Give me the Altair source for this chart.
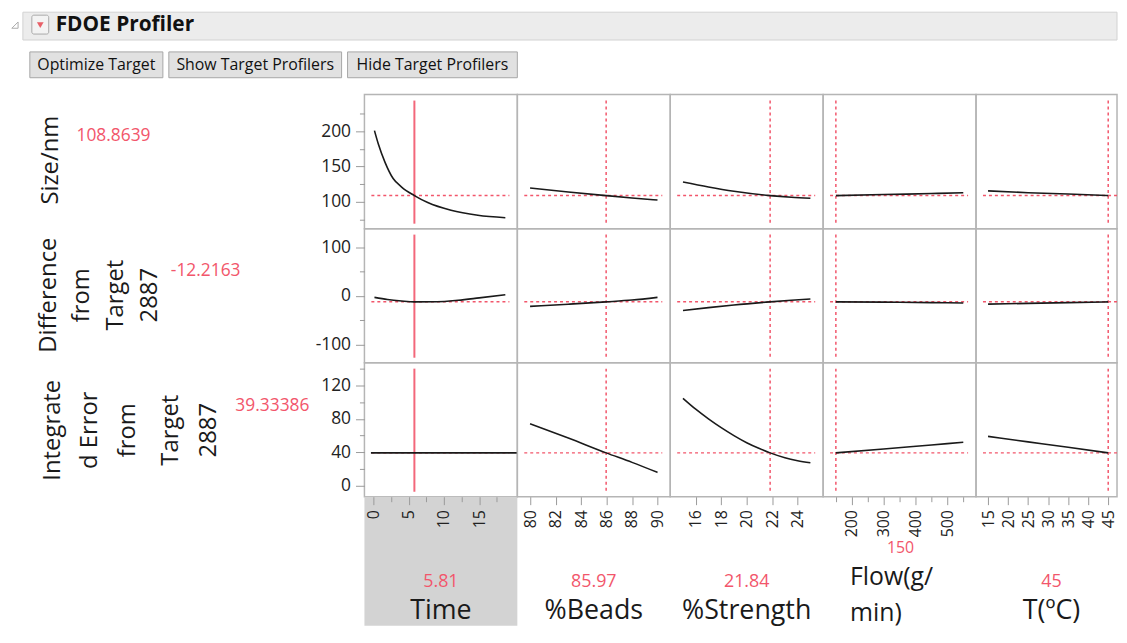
import altair as alt
import pandas as pd

FONT = "Open Sans"
RED = "#f2566b"
INK = "#1a1a1a"

# ---------------- data ----------------
factor_names = ["Time", "%Beads", "%Strength", "Flow(g/min)", "T(ºC)"]
factor_now = [5.81, 85.97, 21.84, 150, 45]
factor_now_txt = ["5.81", "85.97", "21.84", "150", "45"]
response_now = [108.8639, -12.2163, 39.33386]
response_now_txt = ["108.8639", "-12.2163", "39.33386"]
response_title_lines = [["Size/nm"],
                        ["Difference", "from", "Target", "2887"],
                        ["Integrate", "d Error", "from", "Target", "2887"]]

# x positions of curves per factor
time_x = [0.15, 0.7, 1.65, 2.8, 4.0, 5.81, 7.7, 11.0, 14.8, 18.7]
time_x2 = [0.15, 2, 4, 5.81, 9, 12, 15, 18.7]
time_x3 = [-0.35, 20.4]
beads_x = [80, 83, 85.97, 88, 90]
strength_x = [15, 17, 19, 21.84, 23.5, 25]
strength_x3 = [15, 16, 17, 18, 19, 20, 21, 21.84, 23, 24, 25]
flow_x = [150, 300, 450, 550]
temp_x = [15, 25, 35, 45]

# Size/nm
size_time = [201, 182, 156, 133, 121, 108.86, 99, 88, 81, 77.5]
size_beads = [119.5, 114, 108.86, 105.5, 102.5]
size_strength = [128, 121, 115, 108.86, 106.5, 105]
size_flow = [108.86, 110.3, 111.8, 113]
size_temp = [115.5, 113, 111, 108.86]

# Difference from Target 2887
diff_time = [-3, -7.5, -10.5, -12.2, -12, -9, -4, 2.5]
diff_beads = [-21.5, -17, -12.2, -8.5, -3]
diff_strength = [-30, -24, -18.5, -12.2, -9, -6.5]
diff_flow = [-12.2, -12.8, -13.8, -14.5]
diff_temp = [-16.8, -15.3, -13.8, -12.2]

# Integrated Error from Target 2887
ie_time = [39.33, 39.33]
ie_beads = [74, 57, 39.33, 28, 16]
ie_strength = [104.5, 91.5, 80, 69.5, 60, 51.5, 44.5, 39.33, 33.5, 30, 27.5]
ie_flow = [39.33, 44, 48.8, 52]
ie_temp = [59, 52.5, 46, 39.33]

curves = [
    [(time_x, size_time), (beads_x, size_beads), (strength_x, size_strength), (flow_x, size_flow), (temp_x, size_temp)],
    [(time_x2, diff_time), (beads_x, diff_beads), (strength_x, diff_strength), (flow_x, diff_flow), (temp_x, diff_temp)],
    [(time_x3, ie_time), (beads_x, ie_beads), (strength_x3, ie_strength), (flow_x, ie_flow), (temp_x, ie_temp)],
]

x_domains = [[-1.27, 20.4], [79, 91], [14, 26], [110, 590], [12.0, 47.2]]
x_ticks = [[0, 2.5, 5, 7.5, 10, 12.5, 15, 17.5], [80, 82, 84, 86, 88, 90], [16, 18, 20, 22, 24],
           [150, 200, 250, 300, 350, 400, 450, 500, 550], [15, 20, 25, 30, 35, 40, 45]]
x_major = [5, 2, 2, 100, 5]
y_domains = [[62, 252], [-137, 138], [-13, 147]]
y_ticks = [[75, 100, 125, 150, 175, 200, 225], [-100, -50, 0, 50, 100], [0, 20, 40, 60, 80, 100, 120, 140]]
y_major = [50, 100, 40]

buttons = ["Optimize Target", "Show Target Profilers", "Hide Target Profilers"]
header_title = "FDOE Profiler"

widths = [154, 154, 154, 154, 142]
H = 135
BOTTOM = 265  # bottom of the page area below the last row (local px)


def one(**kw):
    return pd.DataFrame({k: [v] for k, v in kw.items()}) if kw else pd.DataFrame({"d": [0]})


def txt(s, x, y, size, color=INK, angle=0, align="center", weight="normal", font=FONT):
    return alt.Chart(one(t=s)).mark_text(
        font=font, fontSize=size, color=color, angle=angle, align=align,
        baseline="middle", fontWeight=weight
    ).encode(text="t:N", x=alt.value(x), y=alt.value(y))


def rect(x, x2, y, y2, fill, stroke=None, sw=1, opacity=1, radius=0):
    kw = dict(fill=fill, opacity=opacity, cornerRadius=radius)
    if stroke:
        kw.update(stroke=stroke, strokeWidth=sw)
    return alt.Chart(one()).mark_rect(**kw).encode(
        x=alt.value(x), x2=alt.value(x2), y=alt.value(y), y2=alt.value(y2))


def panel(ri, ci):
    w = widths[ci]
    xdom = x_domains[ci]
    ydom = y_domains[ri]
    if ri == 2:
        m = x_major[ci]
        xaxis = alt.Axis(
            values=x_ticks[ci], title=None, grid=False, domain=False, labelOverlap=False,
            labelAngle=270, labelFont=FONT, labelFontSize=16, labelColor="#222",
            labelExpr=f"datum.value % {m} === 0 ? '' + datum.value : ''",
            tickColor="#9a9a9a", tickWidth=1,
            tickSize={"condition": {"test": f"datum.value % {m} === 0", "value": 8}, "value": 5},
            labelPadding=5, zindex=1)
    else:
        xaxis = None
    if ci == 0:
        m = y_major[ri]
        yaxis = alt.Axis(
            values=y_ticks[ri], title=None, grid=False, domain=False, labelOverlap=False,
            labelFont=FONT, labelFontSize=17.5, labelColor="#222",
            labelExpr=f"datum.value % {m} === 0 ? '' + datum.value : ''",
            tickColor="#9a9a9a", tickWidth=1,
            tickSize={"condition": {"test": f"datum.value % {m} === 0", "value": 9}, "value": 5},
            labelPadding=5, zindex=1)
    else:
        yaxis = None

    def X():
        return alt.X("x:Q", scale=alt.Scale(domain=xdom, nice=False, zero=False), axis=xaxis)

    def Y():
        return alt.Y("y:Q", scale=alt.Scale(domain=ydom, nice=False, zero=False), axis=yaxis)

    layers = []
    if ri == 2 and ci == 0:
        layers.append(rect(0, w, H, BOTTOM, "#d3d3d3"))

    cx, cy = curves[ri][ci]
    hrule = alt.Chart(one(y=response_now[ri])).mark_rule(
        color=RED, strokeDash=[3, 3], strokeWidth=1.5
    ).encode(y=Y(), x=alt.value(7), x2=alt.value(w - 8 if ci < 4 else w))
    if ci == 0:
        vrule = alt.Chart(one(x=factor_now[ci])).mark_rule(color=RED, strokeWidth=2, opacity=0.9).encode(
            x=X(), y=alt.value(6), y2=alt.value(H - 5))
    else:
        vrule = alt.Chart(one(x=factor_now[ci])).mark_rule(
            color=RED, strokeDash=[3, 3], strokeWidth=1.5).encode(
            x=X(), y=alt.value(6), y2=alt.value(H - 5))
    line = alt.Chart(pd.DataFrame({"x": cx, "y": cy})).mark_line(
        color=INK, strokeWidth=1.6, interpolate="monotone").encode(x=X(), y=Y())
    layers += [hrule, vrule, line]

    # row titles on the left
    if ci == 0:
        if ri == 0:
            layers.append(rect(-358, -357, -84, -83, "white", opacity=0))
            layers.append(txt(response_title_lines[0][0], -316, 66, 24, angle=270))
            layers.append(txt(response_now_txt[0], -290, 42, 17.5, color=RED, align="left"))
        elif ri == 1:
            for t, px in zip(response_title_lines[1], [-318, -284, -250, -216]):
                layers.append(txt(t, px, 67, 24, angle=270))
            layers.append(txt(response_now_txt[1], -195, 43, 17.5, color=RED, align="left"))
        else:
            for t, px in zip(response_title_lines[2], [-314, -276, -238, -195, -156]):
                layers.append(txt(t, px, 68, 24, angle=270))
            layers.append(txt(response_now_txt[2], -130, 44, 17.5, color=RED, align="left"))

    # header inside the top-left cell
    if ri == 0 and ci == 0:
        layers.append(rect(-344, 758, -83, -55, "#ececec", stroke="#d2d2d2"))
        layers.append(alt.Chart(one()).mark_point(
            shape="M1,-1L1,1L-1,1Z", filled=False, stroke="#8a8a8a", strokeWidth=1, size=40
        ).encode(x=alt.value(-352), y=alt.value(-70)))
        layers.append(rect(-335, -318, -80, -61, "#f3f3f3", stroke="#a9a9a9", radius=2))
        layers.append(alt.Chart(one()).mark_point(
            shape="triangle-down", filled=True, color="#e3202b", size=45
        ).encode(x=alt.value(-326.5), y=alt.value(-70)))
        layers.append(txt(header_title, -311, -70, 21, color="#111", align="left", weight="bold"))
        for b, (bx0, bx1) in zip(buttons, [(-337, -203), (-197, -23), (-17, 154)]):
            layers.append(rect(bx0, bx1, -43, -17, "#e1e1e1", stroke="#a6a6a6"))
            layers.append(txt(b, (bx0 + bx1) / 2, -30, 16, color="#111"))

    # column titles below
    if ri == 2:
        c = w / 2 if ci < 4 else 76
        if ci == 3:
            layers.append(txt(factor_now_txt[ci], 78, 187, 16, color=RED))
            layers.append(txt("Flow(g/", 27, 216, 25, align="left"))
            layers.append(txt("min)", 27, 252, 25, align="left"))
        else:
            layers.append(txt(factor_now_txt[ci], c, 221, 18, color=RED))
            layers.append(txt(factor_names[ci], c, 250, 27))

    return alt.layer(*layers).properties(width=w, height=H)


panels = [panel(r, c) for r in range(3) for c in range(5)]

chart = alt.concat(*panels, columns=5, spacing=0, bounds="flush").properties(
    padding={"left": 0, "top": 0, "right": 0, "bottom": 0},
    autosize=alt.AutoSizeParams(type="pad", contains="padding"),
    background="white"
).configure(padding=0).configure_view(stroke="#b5b5b5", strokeWidth=1.5)

chart.save("out.html", embed_options={"renderer": "svg", "actions": False})
